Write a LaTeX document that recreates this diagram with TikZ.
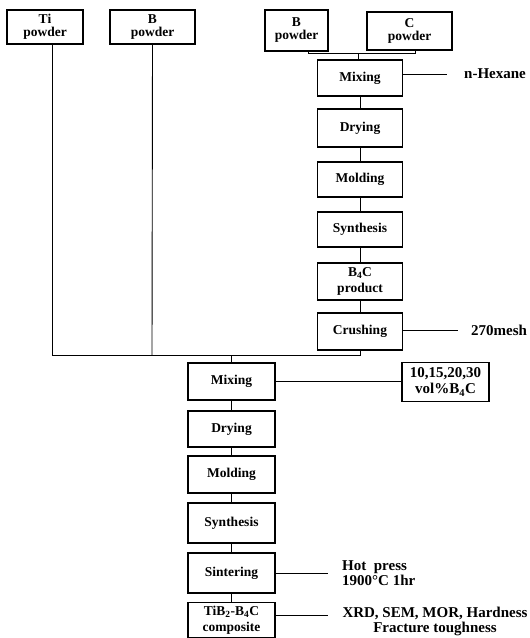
\documentclass[tikz,border=0pt]{standalone}
\usepackage{fontspec}
\setmainfont{Liberation Serif}
\begin{document}
\begin{tikzpicture}[x=1pt,y=-1pt,
  box/.style={draw,line width=1.1pt,minimum width=#1,inner sep=0pt,align=center,
    font=\fontsize{13.5}{13}\selectfont\bfseries},
  box/.default=85pt,
  subbox/.style={font=\fontsize{13.5}{15.5}\selectfont\bfseries},
  conn/.style={line width=0.9pt},
  side/.style={font=\fontsize{15}{15}\selectfont\bfseries,inner sep=0pt}]
\useasboundingbox (0,0) rectangle (530,638);
% top inputs
\node[box=76pt,minimum height=34pt] (ti) at (45,27) {Ti\\powder};
\node[box=85pt,minimum height=34pt] (b1) at (152.5,27) {B\\powder};
\node[box=63pt,minimum height=41pt] (b2) at (296.5,30.5) {B\\powder};
\node[box=85pt,minimum height=38pt] (c) at (409.5,31) {C\\powder};
% right column
\node[box,minimum height=36pt] (mix1) at (360,78) {Mixing};
\node[box,minimum height=38pt] (dry1) at (360,128) {Drying};
\node[box,minimum height=35pt] (mold1) at (360,179.5) {Molding};
\node[box,minimum height=35pt] (syn1) at (360,229.5) {Synthesis};
\node[box,subbox,minimum height=37pt] (prod) at (360,281.5) {B\textsubscript{4}C\\product};
\node[box,minimum height=37pt] (crush) at (360,331.5) {Crushing};
% left column
\node[box=87pt,minimum height=37pt] (mix2) at (231.5,381.5) {Mixing};
\node[box=87pt,minimum height=36pt] (dry2) at (231.5,429) {Drying};
\node[box=87pt,minimum height=37pt] (mold2) at (231.5,474.5) {Molding};
\node[box=87pt,minimum height=40pt] (syn2) at (231.5,523) {Synthesis};
\node[box=87pt,minimum height=40pt] (sint) at (231.5,573) {Sintering};
\node[box=87pt,subbox,minimum height=35pt] (comp) at (231.5,620) {TiB\textsubscript{2}-B\textsubscript{4}C\\composite};
\node[box=87pt,minimum height=39pt,font=\fontsize{15}{16}\selectfont\bfseries] (vol) at (445.5,382) {10,15,20,30\\vol\%B\textsubscript{4}C};
% side labels
\coordinate (hexend) at (447,74);
\node[side,anchor=west] (hex) at (464,74) {n-Hexane};
\coordinate (meshend) at (458,330);
\node[side,anchor=west] (mesh) at (471,330) {270mesh};
\coordinate (hotend) at (328,573);
\node[side,anchor=west,align=left] (hot) at (342,573) {Hot\ \ press\\1900°C 1hr};
\coordinate (xrdend) at (328,615);
\node[side,align=center] (xrd) at (435,621) {XRD, SEM, MOR, Hardness\\Fracture toughness};
% junctions
\coordinate (brL) at (308,53);
\coordinate (brR) at (415,53);
\coordinate (brM) at (358,53);
\coordinate (busL) at (52,355);
\coordinate (busB) at (152,355);
\coordinate (busR) at (360,355);
\coordinate (busM) at (231.5,355);
% connectors
\draw[conn] (brL |- b2.south) -- (brL) -- (brR) -- (brR |- c.south);
\draw[conn] (brM) -- (brM |- mix1.north);
\draw[conn] (mix1.east |- hexend) -- (hexend);
\draw[conn] (mix1) -- (dry1);
\draw[conn] (dry1) -- (mold1);
\draw[conn] (mold1) -- (syn1);
\draw[conn] (syn1) -- (prod);
\draw[conn] (prod) -- (crush);
\draw[conn] (crush.east |- meshend) -- (meshend);
\draw[conn] (crush.south) -- (busR) -- (busL) -- (busL |- ti.south);
\draw[conn] (busB) -- (b1.south);
\draw[conn] (busM) -- (mix2.north);
\draw[conn] (mix2.east) -- (mix2.east -| vol.west);
\draw[conn] (mix2) -- (dry2);
\draw[conn] (dry2) -- (mold2);
\draw[conn] (mold2) -- (syn2);
\draw[conn] (syn2) -- (sint);
\draw[conn] (sint) -- (comp);
\draw[conn] (sint.east) -- (hotend);
\draw[conn] (comp.east |- xrdend) -- (xrdend);
\end{tikzpicture}
\end{document}
